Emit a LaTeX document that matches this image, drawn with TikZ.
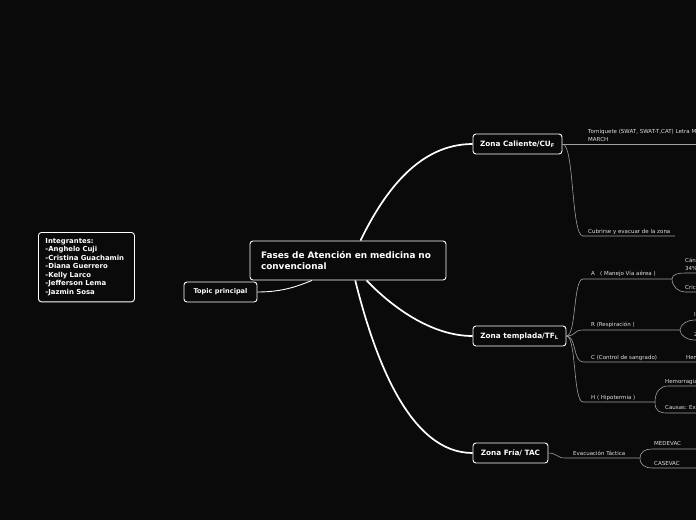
\documentclass[tikz,border=0pt]{standalone}
\usepackage{fontspec}
\setmainfont{DejaVu Sans}
\usetikzlibrary{positioning}

\definecolor{bgdark}{RGB}{10,10,10}
\definecolor{linegray}{RGB}{160,160,160}
\definecolor{txtgray}{RGB}{225,225,225}

\tikzset{
  zonebox/.style={draw=white, fill=bgdark, rounded corners=3pt, line width=0.9pt,
    text=white, font=\bfseries\fontsize{7.3}{8}\selectfont, minimum height=20, inner sep=0pt},
  leaftext/.style={text=txtgray, font=\fontsize{5.5}{8}\selectfont, anchor=base west, inner sep=0pt},
  trunk/.style={white, line width=1.7pt},
  twig/.style={linegray, line width=0.6pt},
}

\begin{document}
\begin{tikzpicture}[x=1pt,y=-1pt]
  \fill[bgdark] (0,0) rectangle (696,520);
  \useasboundingbox (0,0) rectangle (696,520);
  \clip (0,0) rectangle (696,520);

  % boxes
  \node[zonebox, minimum width=196, minimum height=39, text width=174, align=left,
        font=\bfseries\fontsize{8.9}{11}\selectfont] (main) at (348,260.5)
        {Fases de Atención en medicina no\\convencional};
  \node[zonebox, minimum width=73, font=\bfseries\fontsize{6.6}{8}\selectfont] (topic) at (220.5,292) {Topic principal};
  \node[zonebox, anchor=north west, text width=82, align=left, inner xsep=7pt, inner ysep=6pt,
        font=\bfseries\fontsize{6.9}{8.5}\selectfont] (integ) at (38,232)
        {Integrantes:\\-Anghelo Cuji\\-Cristina Guachamin\\-Diana Guerrero\\-Kelly Larco\\-Jefferson Lema\\-Jazmin Sosa};
  \node[zonebox, minimum width=89] (caliente) at (517.5,144) {Zona Caliente/CU\textsubscript{F}};
  \node[zonebox, minimum width=93] (templada) at (519.5,336) {Zona templada/TF\textsubscript{L}};
  \node[zonebox, minimum width=75] (fria) at (510.5,453) {Zona Fría/ TAC};

  % main branches
  \draw[trunk] (main.58) .. controls (385,190) and (420,144) .. (caliente.west);
  \draw[trunk] (main.-47) .. controls (390,305) and (430,336) .. (templada.west);
  \draw[trunk] (main.-70) .. controls (375,360) and (410,453) .. (fria.west);
  \draw[white, line width=0.9pt] (topic.east) .. controls (285,292) and (300,285) .. (main.209);

  % zona caliente
  \node[leaftext, anchor=south west, align=left] (torniq) at (588,142)
       {Torniquete (SWAT, SWAT-T,CAT) Letra M\\MARCH};
  \coordinate (torniqEnd) at (696,144);
  \draw[twig] (caliente.east) -- (torniqEnd);
  \node[leaftext] (cubrir) at (588,233) {Cubrirse y evacuar de la zona};
  \coordinate (cubrirStart) at (583,236);
  \coordinate (cubrirEnd) at (675,236);
  \draw[twig] (caliente.east) .. controls +(12,0) and +(-12,0) .. (cubrirStart) -- (cubrirEnd);

  % zona templada
  \node[leaftext] (aVia) at (591,275) {A\ \ \ ( Manejo Vía aérea )};
  \node[leaftext] (rResp) at (591,326) {R (Respiración )};
  \node[leaftext] (cSang) at (591,359) {C (Control de sangrado)};
  \node[leaftext] (hHipo) at (591,399) {H ( Hipotermia )};
  \coordinate (aStart) at (583,279);  \coordinate (aEnd) at (672,279);
  \coordinate (rStart) at (583,330);  \coordinate (rEnd) at (680,330);
  \coordinate (cStart) at (583,362);  \coordinate (cEnd) at (696,362);
  \coordinate (hStart) at (583,402);  \coordinate (hEnd) at (655,402);
  \foreach \k in {a,r,c,h}
    \draw[twig] (templada.east) .. controls +(10,0) and +(-10,0) .. (\k Start) -- (\k End);

  % A children
  \node[leaftext, anchor=south west, align=left] (canula) at (685,271) {Cán\\34\%};
  \node[leaftext] (cric) at (685,289) {Cric};
  \coordinate (canStart) at (685,273);  \coordinate (canEnd) at (696,273);
  \coordinate (cricStart) at (685,292); \coordinate (cricEnd) at (696,292);
  \draw[twig] (aEnd) .. controls +(0,-5) and +(-6,0) .. (canStart) -- (canEnd);
  \draw[twig] (aEnd) .. controls +(0,8) and +(-6,0) .. (cricStart) -- (cricEnd);

  % R children
  \node[leaftext] (rTop) at (694,316) {I};
  \node[leaftext] (rBot) at (694,336) {2};
  \coordinate (rTopStart) at (694,320); \coordinate (rTopEnd) at (696,320);
  \coordinate (rBotStart) at (694,340); \coordinate (rBotEnd) at (696,340);
  \draw[twig] (rEnd) .. controls +(0,-6) and +(-6,0) .. (rTopStart) -- (rTopEnd);
  \draw[twig] (rEnd) .. controls +(0,6) and +(-6,0) .. (rBotStart) -- (rBotEnd);

  % C child
  \node[leaftext] (hem) at (686,359) {Hem};

  % H children
  \node[leaftext] (hemorr) at (665,383) {Hemorragia};
  \node[leaftext] (causas) at (665,409) {Causas: Ex};
  \coordinate (hTopStart) at (668,386); \coordinate (hTopEnd) at (696,386);
  \coordinate (hBotStart) at (668,413); \coordinate (hBotEnd) at (696,413);
  \draw[twig] (hEnd) .. controls +(0,-10) and +(-8,0) .. (hTopStart) -- (hTopEnd);
  \draw[twig] (hEnd) .. controls +(0,10) and +(-8,0) .. (hBotStart) -- (hBotEnd);

  % zona fria
  \node[leaftext] (evac) at (573,455) {Evacuación Táctica};
  \coordinate (evacStart) at (565,458); \coordinate (evacEnd) at (640,458);
  \draw[twig] (fria.east) .. controls +(8,0) and +(-8,0) .. (evacStart) -- (evacEnd);
  \node[leaftext] (medevac) at (654,445) {MEDEVAC};
  \node[leaftext] (casevac) at (654,465) {CASEVAC};
  \coordinate (medStart) at (652,449); \coordinate (medEnd) at (696,449);
  \coordinate (casStart) at (652,468); \coordinate (casEnd) at (696,468);
  \draw[twig] (evacEnd) .. controls +(0,-6) and +(-7,0) .. (medStart) -- (medEnd);
  \draw[twig] (evacEnd) .. controls +(0,7) and +(-7,0) .. (casStart) -- (casEnd);
\end{tikzpicture}
\end{document}
